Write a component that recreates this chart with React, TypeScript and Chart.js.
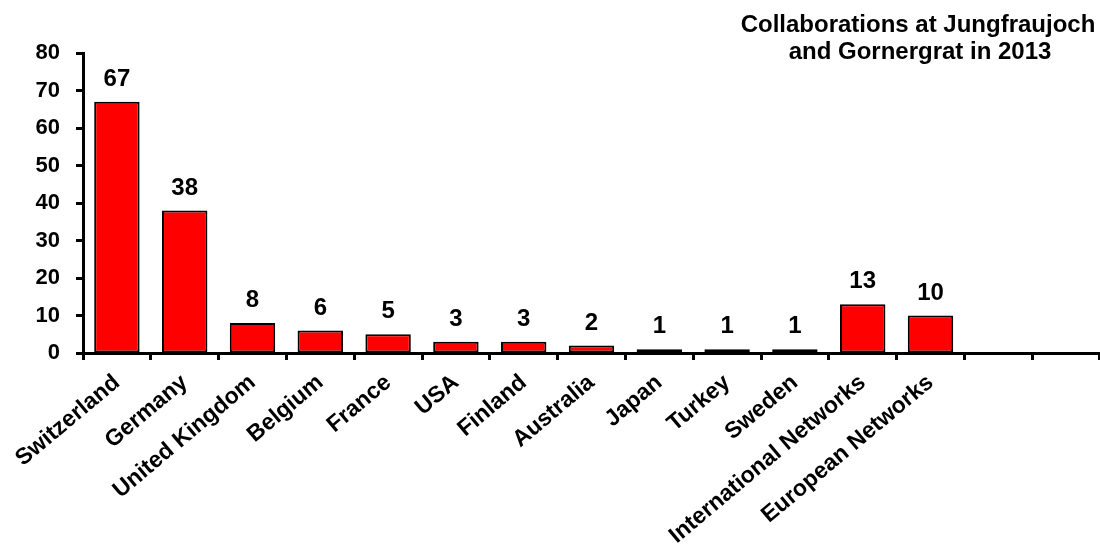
import React, { useEffect, useRef } from "react";
import { Chart, registerables } from "chart.js";

Chart.register(...registerables);

// Collaboration counts per partner country / network
const categories = [
  "Switzerland",
  "Germany",
  "United Kingdom",
  "Belgium",
  "France",
  "USA",
  "Finland",
  "Australia",
  "Japan",
  "Turkey",
  "Sweden",
  "International Networks",
  "European Networks",
  "",
  "",
];
const collaborations = [67, 38, 8, 6, 5, 3, 3, 2, 1, 1, 1, 13, 10, null, null];
const titleLines = ["Collaborations at Jungfraujoch", "and Gornergrat in 2013"];
const yMax = 80;
const yStep = 10;

const FONT = "'Liberation Sans', Arial, Helvetica, sans-serif";

const valueLabels = {
  id: "valueLabels",
  afterDatasetsDraw(chart: any) {
    const ctx = chart.ctx;
    const meta = chart.getDatasetMeta(0);
    const data = chart.data.datasets[0].data;
    ctx.save();
    ctx.font = `bold 24px ${FONT}`;
    ctx.fillStyle = "#000";
    ctx.textAlign = "center";
    ctx.textBaseline = "alphabetic";
    meta.data.forEach((bar: any, i: number) => {
      const v = data[i];
      if (v === null || v === undefined) return;
      ctx.fillText(String(v), bar.x, bar.y - 16);
    });
    ctx.restore();
  },
};

const cornerTitle = {
  id: "cornerTitle",
  afterDraw(chart: any) {
    const ctx = chart.ctx;
    ctx.save();
    ctx.font = `bold 24px ${FONT}`;
    ctx.fillStyle = "#000";
    ctx.textAlign = "center";
    ctx.textBaseline = "alphabetic";
    ctx.fillText(titleLines[0], 918, 32);
    ctx.fillText(titleLines[1], 920, 59);
    ctx.restore();
  },
};

export default function App() {
  const canvasRef = useRef<HTMLCanvasElement | null>(null);

  useEffect(() => {
    const canvas = canvasRef.current;
    if (!canvas) return;
    const chart = new Chart(canvas, {
      type: "bar",
      data: {
        labels: categories,
        datasets: [
          {
            data: collaborations,
            backgroundColor: "#FF0000",
            borderColor: "#000000",
            borderWidth: 2,
            borderSkipped: false,
            barPercentage: 0.67,
            categoryPercentage: 1,
          },
        ],
      },
      options: {
        animation: false,
        responsive: false,
        maintainAspectRatio: false,
        layout: { padding: { top: 53, right: 0, left: 0, bottom: 0 } },
        plugins: {
          legend: { display: false },
          tooltip: { enabled: false },
          title: { display: false },
        },
        scales: {
          x: {
            offset: true,
            grid: {
              offset: true,
              drawOnChartArea: false,
              drawTicks: true,
              tickLength: 7,
              tickWidth: 3,
              tickColor: "#000",
            },
            border: { display: true, color: "#000", width: 3 },
            ticks: {
              autoSkip: false,
              minRotation: 40,
              maxRotation: 40,
              padding: 9,
              color: "#000",
              font: { family: FONT, size: 23, weight: "bold" },
            },
            afterFit(scale: any) {
              scale.height = 193;
            },
          },
          y: {
            min: 0,
            max: yMax,
            ticks: {
              stepSize: yStep,
              padding: 16,
              color: "#000",
              font: { family: FONT, size: 22, weight: "bold" },
            },
            grid: {
              drawOnChartArea: false,
              drawTicks: true,
              tickLength: 7,
              tickWidth: 3,
              tickColor: "#000",
            },
            border: { display: true, color: "#000", width: 3 },
            afterFit(scale: any) {
              scale.width = 83;
            },
          },
        },
      },
      plugins: [valueLabels, cornerTitle],
    });
    return () => chart.destroy();
  }, []);

  return (
    <div style={{ position: "fixed", left: 0, top: 0, width: 1100, height: 546, background: "#fff" }}>
      <canvas ref={canvasRef} width={1100} height={546} style={{ display: "block" }} />
    </div>
  );
}
